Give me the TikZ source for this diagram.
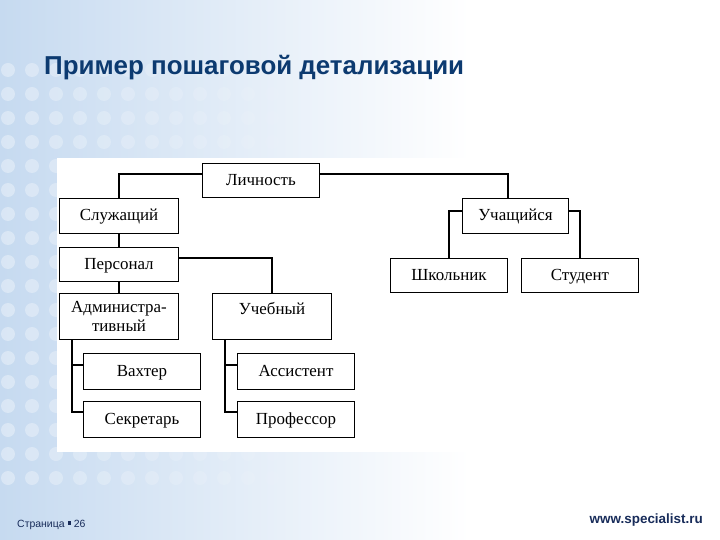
\documentclass[tikz,border=0pt]{standalone}
\usepackage{fontspec}
\setmainfont{Liberation Serif}
\newfontfamily\sansf{Liberation Sans}
\definecolor{bgblue}{RGB}{198,218,240}
\definecolor{titleblue}{RGB}{12,58,112}
\definecolor{footblue}{RGB}{24,44,90}
\tikzset{
  box/.style={draw=black, line width=1.1bp, fill=white, font=\fontsize{17}{19}\selectfont, inner sep=0pt, align=center},
  onebox/.style={box, text height=13bp, text depth=3bp},
  conn/.style={draw=black, line width=2bp}
}
\begin{document}
\begin{tikzpicture}[x=1bp,y=-1bp]
\useasboundingbox (0,0) rectangle (720,540);
\fill[white] (0,0) rectangle (720,540);
\shade[left color=bgblue, right color=white] (0,0) rectangle (470,540);
% decorative dots
\foreach \i in {0,...,12} {
  \foreach \j in {0,...,17} {
    \pgfmathsetmacro{\op}{0.35*(1-\i/13)}
    \fill[white, opacity=\op] ({8+\i*24},{70+\j*24}) circle (7);
  }
}
% diagram background
\fill[white] (57,158) rectangle (658,452);
% title
\node[anchor=base west, font=\sansf\bfseries\fontsize{26}{28}\selectfont, text=titleblue, inner sep=0pt] (title) at (44,75) {Пример пошаговой детализации};
% boxes
\node[onebox, minimum width=118, minimum height=35] (lich) at (261,180.5) {Личность};
\node[onebox, minimum width=120, minimum height=36] (slu) at (119,216) {Служащий};
\node[onebox, minimum width=107, minimum height=36] (uch) at (515.5,216) {Учащийся};
\node[onebox, minimum width=120, minimum height=35] (pers) at (119,264.5) {Персонал};
\node[onebox, minimum width=118, minimum height=35] (shk) at (449,275.5) {Школьник};
\node[onebox, minimum width=118, minimum height=35] (stu) at (580,275.5) {Студент};
\node[box, minimum width=120, minimum height=47] (adm) at (119,316.5) {Администра-\\тивный};
\node[box, minimum width=120, minimum height=47] (ucheb) at (272,316.5) {};
\node[font=\fontsize{17}{19}\selectfont, inner sep=0pt] (uchebt) at (272,309) {Учебный};
\node[onebox, minimum width=118, minimum height=37] (vax) at (142,371.5) {Вахтер};
\node[onebox, minimum width=118, minimum height=37] (sek) at (142,419.5) {Секретарь};
\node[onebox, minimum width=118, minimum height=37] (ass) at (296,371.5) {Ассистент};
\node[onebox, minimum width=118, minimum height=37] (prof) at (296,419.5) {Профессор};
% connectors
\draw[conn] ([yshift=6.5bp]lich.west) -| (slu.north);
\draw[conn] ([yshift=6.5bp]lich.east) -| ([xshift=-7.5bp]uch.north);
\draw[conn] ([yshift=5bp]uch.west) -| (shk.north);
\draw[conn] ([yshift=5bp]uch.east) -| (stu.north);
\draw[conn] (slu.south) -- (pers.north);
\draw[conn] (pers.south) -- (adm.north);
\draw[conn] ([yshift=6.5bp]pers.east) -| (ucheb.north);
\draw[conn] ([xshift=13bp]adm.south west) |- ([yshift=6.5bp]vax.west);
\draw[conn] ([xshift=13bp]adm.south west) |- ([yshift=7.5bp]sek.west);
\draw[conn] ([xshift=13bp]ucheb.south west) |- ([yshift=6.5bp]ass.west);
\draw[conn] ([xshift=13bp]ucheb.south west) |- ([yshift=7.5bp]prof.west);
% footer
\node[anchor=base west, font=\sansf\fontsize{10.5}{12}\selectfont, text=footblue, inner sep=0pt] (page) at (17,527) {Страница \raisebox{2.5bp}{\rule{3.5bp}{3.5bp}} 26};
\node[anchor=base east, font=\sansf\bfseries\fontsize{13.5}{15}\selectfont, text=footblue, inner sep=0pt] (www) at (703,523) {www.specialist.ru};
\end{tikzpicture}
\end{document}
